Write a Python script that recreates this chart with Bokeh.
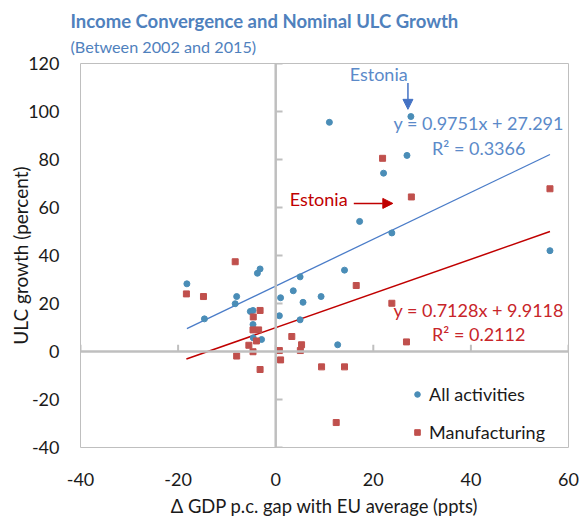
import numpy as np
from bokeh.plotting import figure
from bokeh.models import (Range1d, Label, Arrow, NormalHead, Span, Legend, LegendItem,
                          FixedTicker, Title)
from bokeh.embed import file_html
from bokeh.resources import INLINE

# ---------------- data ----------------
all_x = [-18.2, -14.6, -8.0, -8.3, -3.2, -3.75, -5.2, -4.65, -4.65, -4.6, -2.9,
         1.0, 0.75, 5.0, 3.6, 5.6, 9.3, 14.1, 5.0, 12.7,
         11.0, 27.7, 26.9, 22.1, 17.2, 23.8, 56.2]
all_y = [28.2, 13.6, 22.9, 19.9, 34.4, 32.6, 16.7, 17.1, 11.25, 5.7, 5.0,
         22.4, 14.9, 31.1, 25.3, 20.5, 22.9, 33.9, 13.2, 2.8,
         95.5, 97.9, 81.7, 74.3, 54.2, 49.4, 42.0]

manu_x = [-8.3, -18.3, -14.8, -3.2, -4.6, -4.65, -3.5, -3.95, -5.5, -8.0, -4.65, -3.2,
          0.75, 1.0, 3.3, 5.3, 5.05, 9.4, 14.1, 12.4, 16.5, 23.8, 26.8, 21.9, 27.8, 56.2]
manu_y = [37.4, 24.0, 22.9, 17.1, 14.4, 9.0, 9.0, 4.4, 2.6, -1.9, -0.1, -7.5,
          0.4, -3.5, 6.25, 2.8, 0.4, -6.4, -6.4, -29.6, 27.5, 20.1, 4.0, 80.5, 64.4, 67.8]

all_fit = {"slope": 0.9751, "intercept": 27.291, "r2": 0.3366}
manu_fit = {"slope": 0.7128, "intercept": 9.9118, "r2": 0.2112}

estonia_all = (27.7, 97.9)
estonia_manu = (27.8, 64.4)

x_ticks = [-40, -20, 0, 20, 40, 60]
y_ticks = [-40, -20, 0, 20, 40, 60, 80, 100, 120]

title_text = "Income Convergence and Nominal ULC Growth"
subtitle_text = "(Between 2002 and 2015)"
x_label = "Δ GDP p.c. gap with EU average (ppts)"
y_label = "ULC growth (percent)"
series_names = ["All activities", "Manufacturing"]

# ---------------- styles ----------------
FONT = "Lato"
BLUE_PT = "#4A8DB7"
RED_PT = "#C0504D"
BLUE_LINE = "#4A7CC8"
RED_LINE = "#C00000"
BLUE_TXT = "#5B8AC9"
RED_TXT = "#C8252A"
TITLE_C = "#4F81BD"
GRAY = "#BFBFBF"
TXT = "#1A1A1A"

p = figure(width=579, height=520, x_range=Range1d(-40, 60), y_range=Range1d(-40, 120),
           output_backend="svg", toolbar_location=None,
           min_border_left=80, min_border_right=11, min_border_top=63, min_border_bottom=73)
p.grid.visible = False
p.outline_line_color = GRAY
p.outline_line_width = 1
p.background_fill_color = "white"

for ax in (p.xaxis[0], p.yaxis[0]):
    ax.major_tick_in = 0
    ax.major_tick_out = 0
    ax.minor_tick_in = 0
    ax.minor_tick_out = 0
    ax.axis_line_color = None
    ax.major_label_text_font = FONT
    ax.major_label_text_font_size = "18px"
    ax.major_label_text_color = TXT
    ax.axis_label_text_font = FONT
    ax.axis_label_text_font_style = "normal"
    ax.axis_label_text_color = TXT

p.xaxis.ticker = FixedTicker(ticks=x_ticks)
p.yaxis.ticker = FixedTicker(ticks=y_ticks)
p.xaxis.major_label_overrides = {t: str(t) for t in x_ticks}
p.yaxis.major_label_overrides = {t: str(t) for t in y_ticks}
p.xaxis.major_label_standoff = 25
p.yaxis.major_label_standoff = 21
p.xaxis.axis_label = x_label
p.yaxis.axis_label = y_label
p.xaxis.axis_label_text_font_size = "18.4px"
p.yaxis.axis_label_text_font_size = "19px"
p.xaxis.axis_label_standoff = 6
p.yaxis.axis_label_standoff = -7

# titles (subtitle added first so that it sits next to the frame)
p.add_layout(Title(text=subtitle_text, align="left", offset=-10, standoff=16,
                   text_font=FONT, text_font_size="16.2px", text_font_style="normal",
                   text_color=TITLE_C), "above")
p.add_layout(Title(text=title_text, align="left", offset=-10, standoff=-11,
                   text_font=FONT, text_font_size="18.5px", text_font_style="bold",
                   text_color=TITLE_C), "above")

# crossing axes at zero
p.add_layout(Span(location=0, dimension="height", line_color=GRAY, line_width=2.5))
p.add_layout(Span(location=0, dimension="width", line_color=GRAY, line_width=2.5))
p.segment(x0=x_ticks, y0=[0] * len(x_ticks), x1=x_ticks, y1=[2.8] * len(x_ticks),
          line_color=GRAY, line_width=2)
p.segment(x0=[0] * len(y_ticks), y0=y_ticks, x1=[1.4] * len(y_ticks), y1=y_ticks,
          line_color=GRAY, line_width=2)

# trend lines
ax_line = np.array([min(all_x), max(all_x)])
mx_line = np.array([min(manu_x), max(manu_x)])
p.line(ax_line, all_fit["slope"] * ax_line + all_fit["intercept"], line_color=BLUE_LINE, line_width=1.3)
p.line(mx_line, manu_fit["slope"] * mx_line + manu_fit["intercept"], line_color=RED_LINE, line_width=1.5)

r_all = p.scatter(all_x, all_y, marker="circle", size=6, fill_color=BLUE_PT, line_color=BLUE_PT)
r_man = p.scatter(manu_x, manu_y, marker="square", size=6, fill_color=RED_PT, line_color=RED_PT)

legend = Legend(items=[LegendItem(label=series_names[0], renderers=[r_all]),
                       LegendItem(label=series_names[1], renderers=[r_man])],
                location=(330, 4), border_line_color=None, background_fill_alpha=0,
                glyph_width=14, glyph_height=14, label_height=22, spacing=16,
                padding=0, margin=0, label_standoff=5,
                label_text_font=FONT, label_text_font_size="18px", label_text_color=TXT)
p.add_layout(legend)

# equations
eq_x = 41.6
EQ_FS = "18px"
p.add_layout(Label(x=eq_x, y=95.3, text=f"y = {all_fit['slope']}x + {all_fit['intercept']}",
                   text_font=FONT, text_font_size=EQ_FS, text_color=BLUE_TXT,
                   text_align="center", text_baseline="middle"))
p.add_layout(Label(x=eq_x, y=84.6, text=f"R² = {all_fit['r2']}",
                   text_font=FONT, text_font_size=EQ_FS, text_color=BLUE_TXT,
                   text_align="center", text_baseline="middle"))
p.add_layout(Label(x=eq_x, y=17.5, text=f"y = {manu_fit['slope']}x + {manu_fit['intercept']}",
                   text_font=FONT, text_font_size=EQ_FS, text_color=RED_TXT,
                   text_align="center", text_baseline="middle"))
p.add_layout(Label(x=eq_x, y=7.5, text=f"R² = {manu_fit['r2']}",
                   text_font=FONT, text_font_size=EQ_FS, text_color=RED_TXT,
                   text_align="center", text_baseline="middle"))

# Estonia callouts
ex, ey = estonia_all
p.add_layout(Label(x=ex - 6.6, y=ey + 17.8, text="Estonia", text_font=FONT, text_font_size="18px",
                   text_color=BLUE_TXT, text_align="center", text_baseline="middle"))
p.add_layout(Arrow(x_start=ex - 0.6, y_start=ey + 14, x_end=ex - 0.6, y_end=ey + 3,
                   line_color="#4472C4", line_width=1.5,
                   end=NormalHead(size=10, fill_color="#4472C4", line_color="#4472C4")))
mx, my = estonia_manu
p.add_layout(Label(x=mx - 19.0, y=my - 0.8, text="Estonia", text_font=FONT, text_font_size="18px",
                   text_color=RED_LINE, text_align="center", text_baseline="middle"))
p.add_layout(Arrow(x_start=mx - 11.8, y_start=my - 2.7, x_end=mx - 3.8, y_end=my - 2.7,
                   line_color=RED_LINE, line_width=1.5,
                   end=NormalHead(size=10, fill_color=RED_LINE, line_color=RED_LINE)))

open("out.html", "w").write(file_html(p, INLINE))
